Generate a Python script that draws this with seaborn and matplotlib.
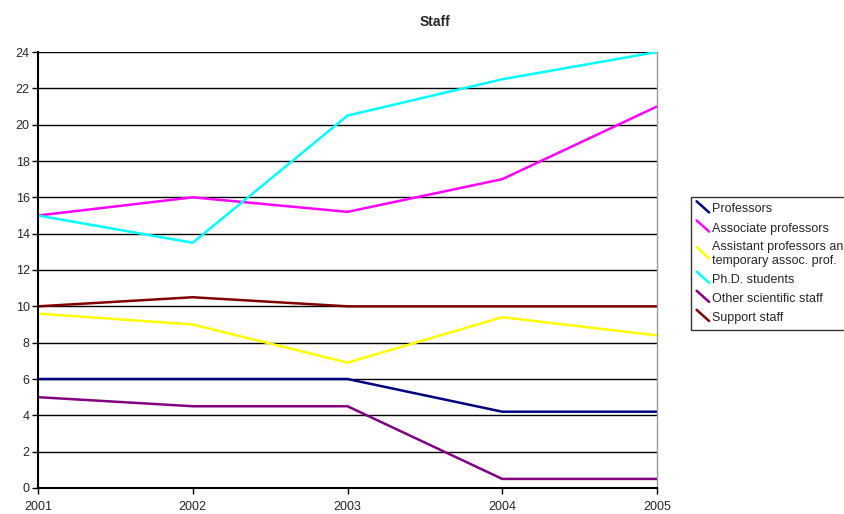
import numpy as np
import pandas as pd
import matplotlib
matplotlib.use("Agg")
import matplotlib.pyplot as plt
from matplotlib.legend_handler import HandlerLine2D
from matplotlib.lines import Line2D
import seaborn as sns

years = [2001, 2002, 2003, 2004, 2005]
professors = [6, 6, 6, 4.2, 4.2]
associate = [15, 16, 15.2, 17, 21]
assistant = [9.6, 9.0, 6.9, 9.4, 8.4]
phd = [15, 13.5, 20.5, 22.5, 24]
other_sci = [5, 4.5, 4.5, 0.5, 0.5]
support = [10, 10.5, 10, 10, 10]

series_names = ["Professors", "Associate professors",
                "Assistant professors and\ntemporary assoc. prof.",
                "Ph.D. students", "Other scientific staff", "Support staff"]
series_vals = [professors, associate, assistant, phd, other_sci, support]
colors = ["#000080", "#FF00FF", "#FFFF00", "#00FFFF", "#800080", "#800000"]

rows = []
for name, vals in zip(series_names, series_vals):
    for yr, v in zip(years, vals):
        rows.append({"year": yr, "value": v, "series": name})
df = pd.DataFrame(rows)

sns.set_style("white")
plt.rcParams['font.family'] = ['Liberation Sans', 'DejaVu Sans']

fig = plt.figure(figsize=(8.45, 5.14), dpi=100)
ax = fig.add_axes([38/845, 26/514, (657-38)/845, (488-52)/514])

sns.lineplot(data=df, x="year", y="value", hue="series", hue_order=series_names,
             palette=dict(zip(series_names, colors)), linewidth=1.8, ax=ax,
             legend=False)

ax.set_xlim(2001, 2005)
ax.set_ylim(0, 24)
ax.set_yticks(range(0, 25, 2))
ax.set_xticks(years)
ax.set_xticklabels([str(y) for y in years])
ax.grid(axis='y', color='black', linewidth=1)
ax.set_axisbelow(True)
ax.set_xlabel("")
ax.set_ylabel("")
ax.tick_params(axis='both', labelsize=9, length=4, width=1, color='black',
               direction='out', pad=2)
ax.tick_params(axis='x', pad=5)
ax.spines['left'].set_color('black')
ax.spines['left'].set_linewidth(1.5)
ax.spines['bottom'].set_color('black')
ax.spines['bottom'].set_linewidth(1.5)
ax.spines['top'].set_visible(False)
ax.spines['right'].set_color('#999999')
ax.spines['right'].set_linewidth(1)
ax.xaxis.set_ticks_position('bottom')
ax.yaxis.set_ticks_position('left')

fig.text(435/845, 1 - 22/514, "Staff", ha='center', va='center',
         fontsize=10, fontweight='bold')


class DiagHandler(HandlerLine2D):
    def create_artists(self, legend, orig_handle, xdescent, ydescent,
                       width, height, fontsize, trans):
        line = Line2D([0, width], [height, 0], color=orig_handle.get_color(),
                      linewidth=orig_handle.get_linewidth(), transform=trans)
        return [line]


handles = [Line2D([], [], color=c, linewidth=1.8) for c in colors]
leg = fig.legend(handles, series_names, loc='upper left',
                 bbox_to_anchor=(691/845, 1 - 197/514), borderaxespad=0,
                 frameon=True, fontsize=9, handlelength=1.0, handleheight=1.0,
                 handletextpad=0.25, labelspacing=0.5, borderpad=0.45,
                 fancybox=False, handler_map={Line2D: DiagHandler()})
leg.get_frame().set_edgecolor('black')
leg.get_frame().set_linewidth(1)

plt.savefig("out.png", dpi=100)
